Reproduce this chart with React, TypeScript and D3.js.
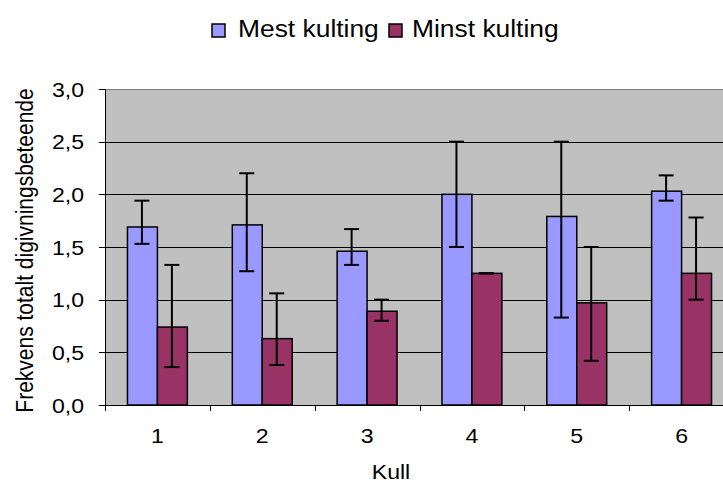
import React from "react";
import * as d3 from "d3";

const categories = ["1", "2", "3", "4", "5", "6"];
const seriesNames = ["Mest kulting", "Minst kulting"];
const mest = [1.69, 1.71, 1.46, 2.0, 1.79, 2.03];
const mestLow = [1.53, 1.27, 1.33, 1.5, 0.83, 1.94];
const mestHigh = [1.94, 2.2, 1.67, 2.5, 2.5, 2.18];
const minst = [0.74, 0.63, 0.89, 1.25, 0.97, 1.25];
const minstLow = [0.36, 0.38, 0.8, 1.25, 0.42, 1.0];
const minstHigh = [1.33, 1.06, 1.0, 1.25, 1.5, 1.78];
const yTicks = [0, 0.5, 1.0, 1.5, 2.0, 2.5, 3.0];
const yTitle = "Frekvens totalt digivningsbeteende";
const xTitle = "Kull";

const colors = ["#9999FF", "#993366"];
const FONT = "'Liberation Sans', Arial, sans-serif";
const SX = 1.1;

export default function App() {
  const W = 723, H = 484;
  const left = 105, right = 734, top = 89, bottom = 405;
  const x = d3.scaleBand<string>().domain(categories).range([left, right]).padding(0);
  const xs = d3.scaleBand<string>().domain(seriesNames).range([0, x.bandwidth()]).paddingInner(0).paddingOuter(0.75);
  const y = d3.scaleLinear().domain([0, 3]).range([bottom, top]);
  const fmt = (v: number) => d3.format(".1f")(v).replace(".", ",");

  const series = [
    { name: seriesNames[0], vals: mest, lo: mestLow, hi: mestHigh, color: colors[0] },
    { name: seriesNames[1], vals: minst, lo: minstLow, hi: minstHigh, color: colors[1] },
  ];
  const bw = xs.bandwidth();
  const cap = 7.5;

  const legendItems = [
    { sq: 212, tx: 238 },
    { sq: 389, tx: 412 },
  ];

  return (
    <svg width={W} height={H} style={{ position: "absolute", left: 0, top: 0, background: "#fff" }} fontFamily={FONT}>
      <rect x={0} y={0} width={W} height={H} fill="#fff" />
      {/* plot area */}
      <rect x={left} y={top} width={right - left} height={bottom - top} fill="#C0C0C0" />
      <line x1={left} x2={right} y1={top + 0.5} y2={top + 0.5} stroke="#808080" strokeWidth={1} />
      {yTicks.filter((t) => t > 0 && t < 3).map((t) => (
        <line key={t} x1={left} x2={right} y1={Math.round(y(t)) + 0.5} y2={Math.round(y(t)) + 0.5} stroke="#000" strokeWidth={1} />
      ))}
      {/* bars */}
      {series.map((s) =>
        categories.map((c, i) => (
          <rect
            key={s.name + c}
            x={(x(c) as number) + (xs(s.name) as number)}
            y={y(s.vals[i])}
            width={bw}
            height={bottom - y(s.vals[i])}
            fill={s.color}
            stroke="#000"
            strokeWidth={1.5}
          />
        ))
      )}
      {/* error bars */}
      {series.map((s) =>
        categories.map((c, i) => {
          const cx = (x(c) as number) + (xs(s.name) as number) + bw / 2 - 0.5;
          return (
            <g key={"e" + s.name + c} stroke="#000" strokeWidth={2}>
              <line x1={cx} x2={cx} y1={y(s.hi[i])} y2={y(s.lo[i])} />
              <line x1={cx - cap} x2={cx + cap} y1={y(s.hi[i])} y2={y(s.hi[i])} />
              <line x1={cx - cap} x2={cx + cap} y1={y(s.lo[i])} y2={y(s.lo[i])} />
            </g>
          );
        })
      )}
      {/* axes */}
      <line x1={left + 0.5} x2={left + 0.5} y1={top} y2={bottom} stroke="#000" strokeWidth={1} />
      <line x1={left} x2={right} y1={bottom + 0.5} y2={bottom + 0.5} stroke="#000" strokeWidth={1} />
      {yTicks.map((t) => (
        <g key={"yt" + t}>
          <line x1={left - 6} x2={left} y1={Math.round(y(t)) + 0.5} y2={Math.round(y(t)) + 0.5} stroke="#000" strokeWidth={1} />
          <text transform={`translate(${84},${y(t) + 7.5}) scale(${SX},1)`} textAnchor="end" fontSize={21} fill="#000">
            {fmt(t)}
          </text>
        </g>
      ))}
      {categories.map((c) => (
        <line key={"xt" + c} x1={Math.round(x(c) as number) + 0.5} x2={Math.round(x(c) as number) + 0.5} y1={bottom} y2={bottom + 6} stroke="#000" strokeWidth={1} />
      ))}
      {categories.map((c) => (
        <text key={"xl" + c} transform={`translate(${(x(c) as number) + x.bandwidth() / 2},${443}) scale(${SX},1)`} textAnchor="middle" fontSize={21} fill="#000">
          {c}
        </text>
      ))}
      <text transform={`translate(${391},${479}) scale(${SX},1)`} textAnchor="middle" fontSize={21} fill="#000">
        {xTitle}
      </text>
      <text transform={`translate(${33},${250.5}) rotate(-90) scale(1,${SX})`} textAnchor="middle" fontSize={21} fill="#000">
        {yTitle}
      </text>
      {/* legend */}
      {series.map((s, i) => (
        <g key={"lg" + s.name}>
          <rect x={legendItems[i].sq} y={24} width={13} height={13} fill={s.color} stroke="#000" strokeWidth={1.5} />
          <text transform={`translate(${legendItems[i].tx},${37}) scale(${SX},1)`} fontSize={24} fill="#000">
            {s.name}
          </text>
        </g>
      ))}
    </svg>
  );
}
